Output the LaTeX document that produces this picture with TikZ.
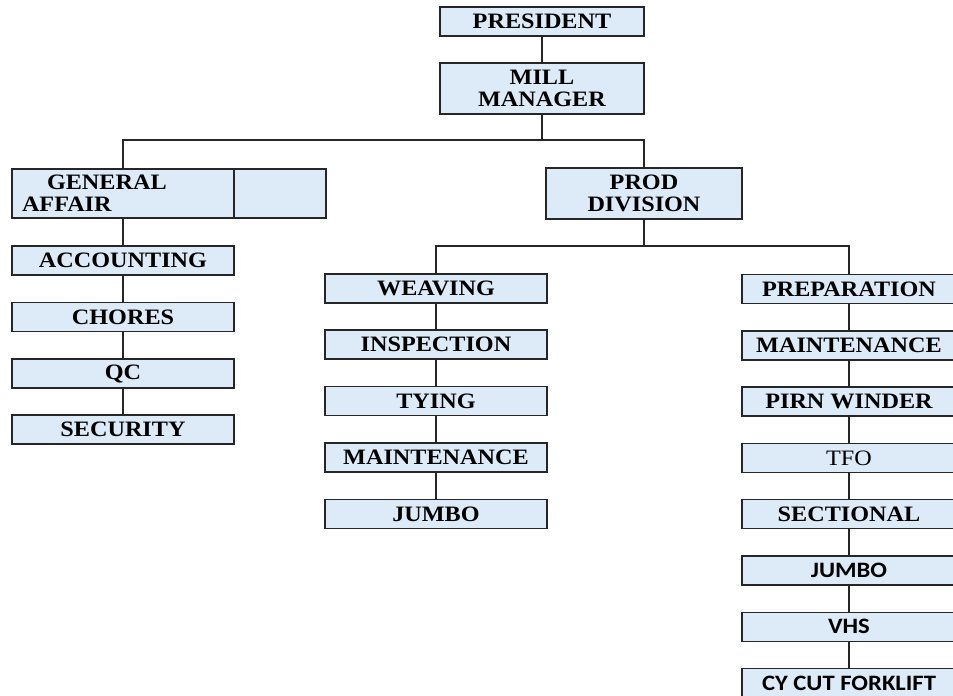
\documentclass[tikz,border=0pt]{standalone}
\usepackage{fontspec}
\setmainfont{Liberation Serif}[FakeStretch=1.1]
\newfontfamily\calibri{Carlito}[FakeStretch=1.12]
\definecolor{boxblue}{RGB}{221,234,247}
\tikzstyle{unit}=[draw=black!85,fill=boxblue,line width=1.5pt,inner sep=0pt,minimum height=29pt,font=\fontsize{22}{22}\selectfont\bfseries,align=center]
\tikzstyle{wide}=[unit,minimum height=51pt]
\tikzstyle{sansunit}=[unit,minimum width=214pt,font=\fontsize{22}{22}\selectfont\calibri\bfseries]
\tikzstyle{link}=[line width=1.5pt,black!85]

\begin{document}
\begin{tikzpicture}[x=1pt,y=-1pt]
\useasboundingbox (0,0) rectangle (953,696);
\clip (0,0) rectangle (953,696);
% top
\node[unit,minimum width=204pt] at (542,21.5) (pres) {PRESIDENT};
\node[wide,minimum width=204pt] at (542,88.5) (mill) {MILL\\MANAGER};
\coordinate (bus1) at (542,140);
% general affair side
\node[unit,minimum height=49pt,minimum width=222pt,text width=202pt,inner xsep=10pt,align=left] at (123,193.5) (ga) {\hspace*{25pt}GENERAL\\AFFAIR};
\node[unit,minimum height=49pt,minimum width=92pt] at (280,193.5) (gablank) {};
\node[unit,minimum width=222pt] at (123,260.5) (acc) {ACCOUNTING};
\node[unit,minimum width=222pt] at (123,317) (chor) {CHORES};
\node[unit,minimum width=222pt] at (123,373.5) (qc) {QC};
\node[unit,minimum width=222pt] at (123,429.5) (sec) {SECURITY};
% production side
\node[wide,minimum width=196pt] at (644,193.5) (prod) {PROD\\DIVISION};
\coordinate (bus2) at (644,246);
\node[unit,minimum width=222pt] at (436,288.5) (weav) {WEAVING};
\node[unit,minimum width=222pt] at (436,344.5) (insp) {INSPECTION};
\node[unit,minimum width=222pt] at (436,401) (tyin) {TYING};
\node[unit,minimum width=222pt] at (436,457.5) (wmnt) {MAINTENANCE};
\node[unit,minimum width=222pt] at (436,514) (wjum) {JUMBO};
\node[unit,minimum width=214pt] at (849,289) (prep) {PREPARATION};
\node[unit,minimum width=214pt] at (849,345.3) (pmnt) {MAINTENANCE};
\node[unit,minimum width=214pt] at (849,401.6) (pirn) {PIRN WINDER};
\node[unit,minimum width=214pt,font=\fontsize{22}{22}\selectfont] at (849,457.9) (tfo) {TFO};
\node[unit,minimum width=214pt] at (849,514.2) (sect) {SECTIONAL};
\node[sansunit] at (849,570.5) (pjum) {JUMBO};
\node[sansunit] at (849,626.8) (vhs) {VHS};
\node[sansunit] at (849,683.1) (cycut) {CY CUT FORKLIFT};
% links
\draw[link] (pres) -- (mill);
\draw[link] (mill) -- (bus1);
\draw[link] (bus1) -| (ga.north);
\draw[link] (bus1) -| (prod.north);
\draw[link] (ga) -- (acc);
\draw[link] (acc) -- (chor);
\draw[link] (chor) -- (qc);
\draw[link] (qc) -- (sec);
\draw[link] (prod) -- (bus2);
\draw[link] (bus2) -| (weav.north);
\draw[link] (bus2) -| (prep.north);
\draw[link] (weav) -- (insp);
\draw[link] (insp) -- (tyin);
\draw[link] (tyin) -- (wmnt);
\draw[link] (wmnt) -- (wjum);
\draw[link] (prep) -- (pmnt);
\draw[link] (pmnt) -- (pirn);
\draw[link] (pirn) -- (tfo);
\draw[link] (tfo) -- (sect);
\draw[link] (sect) -- (pjum);
\draw[link] (pjum) -- (vhs);
\draw[link] (vhs) -- (cycut);
\end{tikzpicture}
\end{document}
